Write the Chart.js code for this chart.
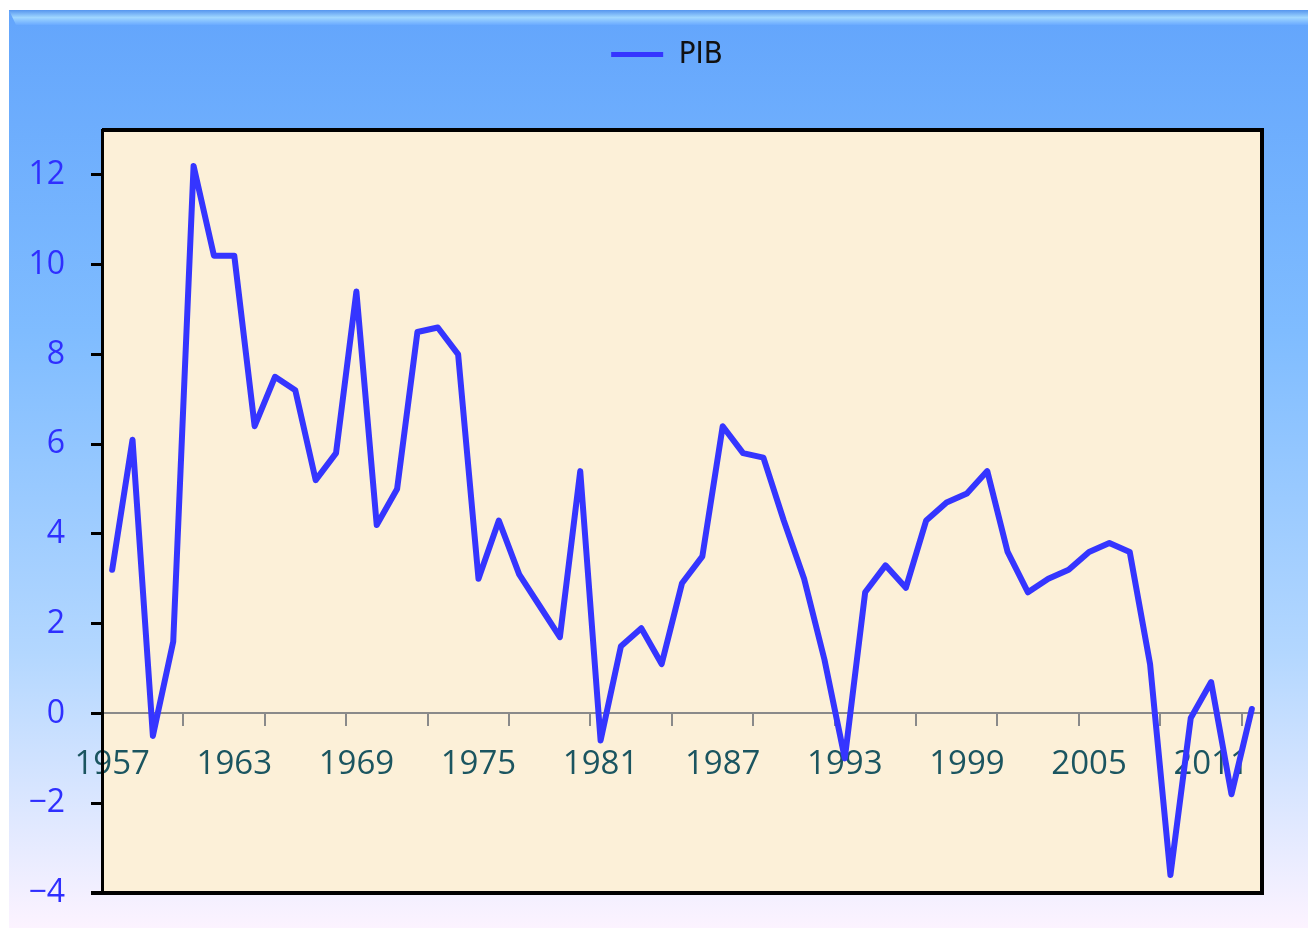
<!DOCTYPE html>
<html lang="fr">
<head>
  <meta charset="UTF-8">
  <title>PIB</title>
  <script src="https://cdn.jsdelivr.net/npm/chart.js"></script>
  <style>
    body { margin: 0; background: #fff; }
    canvas { display: block; }
  </style>
</head>
<body>
  <canvas id="pib-chart" width="1308" height="928"></canvas>

  <script>
    // Données
    const years = [];
    for (let y = 1957; y <= 2013; y++) years.push(String(y));

    const pib = [
      3.2, 6.1, -0.5, 1.6, 12.2, 10.2, 10.2, 6.4, 7.5, 7.2,
      5.2, 5.8, 9.4, 4.2, 5.0, 8.5, 8.6, 8.0, 3.0, 4.3,
      3.1, 2.4, 1.7, 5.4, -0.6, 1.5, 1.9, 1.1, 2.9, 3.5,
      6.4, 5.8, 5.7, 4.3, 3.0, 1.2, -1.0, 2.7, 3.3, 2.8,
      4.3, 4.7, 4.9, 5.4, 3.6, 2.7, 3.0, 3.2, 3.6, 3.8,
      3.6, 1.1, -3.6, -0.1, 0.7, -1.8, 0.1
    ];

    const yTicks = [-4, -2, 0, 2, 4, 6, 8, 10, 12];

    function noPad(scale) {
      scale.paddingTop = 0;
      scale.paddingBottom = 0;
      scale.paddingLeft = 0;
      scale.paddingRight = 0;
    }

    // Fond dégradé + zone de tracé beige
    const backdrop = {
      id: 'backdrop',
      beforeInit(chart) {
        // espace entre la légende et la zone de tracé
        const fit = chart.legend.fit;
        chart.legend.fit = function () {
          fit.call(this);
          this.height += 50;
        };
      },
      afterLayout(chart) {
        // légende un peu à droite, comme l'original
        chart.legend.left += 72;
      },
      beforeDraw(chart) {
        const ctx = chart.ctx;
        const { width, height, chartArea: a } = chart;
        ctx.save();
        ctx.fillStyle = '#ffffff';
        ctx.fillRect(0, 0, width, height);

        const g = ctx.createLinearGradient(0, 10, 0, height);
        g.addColorStop(0, '#63a5fc');
        g.addColorStop(0.35, '#7fbcff');
        g.addColorStop(0.7, '#b3d7ff');
        g.addColorStop(1, '#fcf3ff');
        ctx.fillStyle = g;
        ctx.fillRect(9, 10, width - 9, height - 10);

        // biseau du haut
        const b = ctx.createLinearGradient(0, 10, 0, 25);
        b.addColorStop(0, '#5595ee');
        b.addColorStop(0.5, '#9fd6ff');
        b.addColorStop(1, '#6aaaff');
        ctx.fillStyle = b;
        ctx.beginPath();
        ctx.moveTo(9, 10);
        ctx.lineTo(width, 10);
        ctx.lineTo(width, 25);
        ctx.lineTo(16, 25);
        ctx.closePath();
        ctx.fill();

        ctx.fillStyle = '#fcf0d8';
        ctx.fillRect(a.left, a.top, a.right - a.left, a.bottom - a.top);
        ctx.restore();
      },
      afterDraw(chart) {
        const ctx = chart.ctx;
        const a = chart.chartArea;
        ctx.save();
        ctx.strokeStyle = '#000';
        ctx.lineWidth = 4;
        ctx.beginPath();
        ctx.moveTo(a.left, a.top);
        ctx.lineTo(a.right, a.top);
        ctx.lineTo(a.right, a.bottom);
        ctx.lineTo(a.left - 11, a.bottom);
        ctx.stroke();
        ctx.restore();
      }
    };

    new Chart(document.getElementById('pib-chart'), {
      type: 'line',
      data: {
        labels: years,
        datasets: [{
          label: 'PIB',
          data: pib,
          borderColor: '#3535ff',
          backgroundColor: '#3535ff',
          borderWidth: 6,
          borderJoinStyle: 'round',
          borderCapStyle: 'round',
          pointRadius: 0,
          tension: 0
        }]
      },
      options: {
        responsive: false,
        animation: false,
        layout: { padding: { top: 29, right: 46, bottom: 35, left: 0 } },
        plugins: {
          tooltip: { enabled: false },
          legend: {
            position: 'top',
            labels: {
              color: '#111',
              font: { family: "'Liberation Sans Narrow', 'DejaVu Sans Condensed', sans-serif", size: 31 },
              boxWidth: 52,
              boxHeight: 5,
              padding: 10,
              generateLabels(chart) {
                return Chart.defaults.plugins.legend.labels.generateLabels(chart)
                  .map(l => Object.assign(l, { lineWidth: 0 }));
              }
            }
          }
        },
        scales: {
          x: {
            position: { y: 0 },
            offset: true,
            afterFit: noPad,
            border: { color: '#8a8a8a', width: 2 },
            grid: {
              offset: true,
              drawOnChartArea: false,
              tickLength: 12,
              lineWidth: 2,
              tickColor: c => (c.index % 4 === 0 ? '#8a8a8a' : 'rgba(0,0,0,0)')
            },
            ticks: {
              autoSkip: false,
              maxRotation: 0,
              padding: 19,
              color: '#1b5560',
              font: { family: "'Open Sans', sans-serif", size: 33 },
              callback(v, i) { return i % 6 === 0 ? years[i] : ''; }
            }
          },
          y: {
            min: -4,
            max: 13,
            afterBuildTicks(scale) {
              scale.ticks = yTicks.map(v => ({ value: v }));
            },
            afterFit(scale) {
              noPad(scale);
              scale.width = 102;
            },
            border: { color: '#000', width: 3 },
            grid: {
              drawOnChartArea: false,
              tickLength: 11,
              lineWidth: 3,
              tickColor: '#000'
            },
            ticks: {
              padding: 26,
              color: '#2f2fff',
              font: { family: "'Open Sans', sans-serif", size: 32, weight: '500' },
              callback(v) { return String(v).replace('-', '\u2212'); }
            }
          }
        }
      },
      plugins: [backdrop]
    });
  </script>
</body>
</html>
